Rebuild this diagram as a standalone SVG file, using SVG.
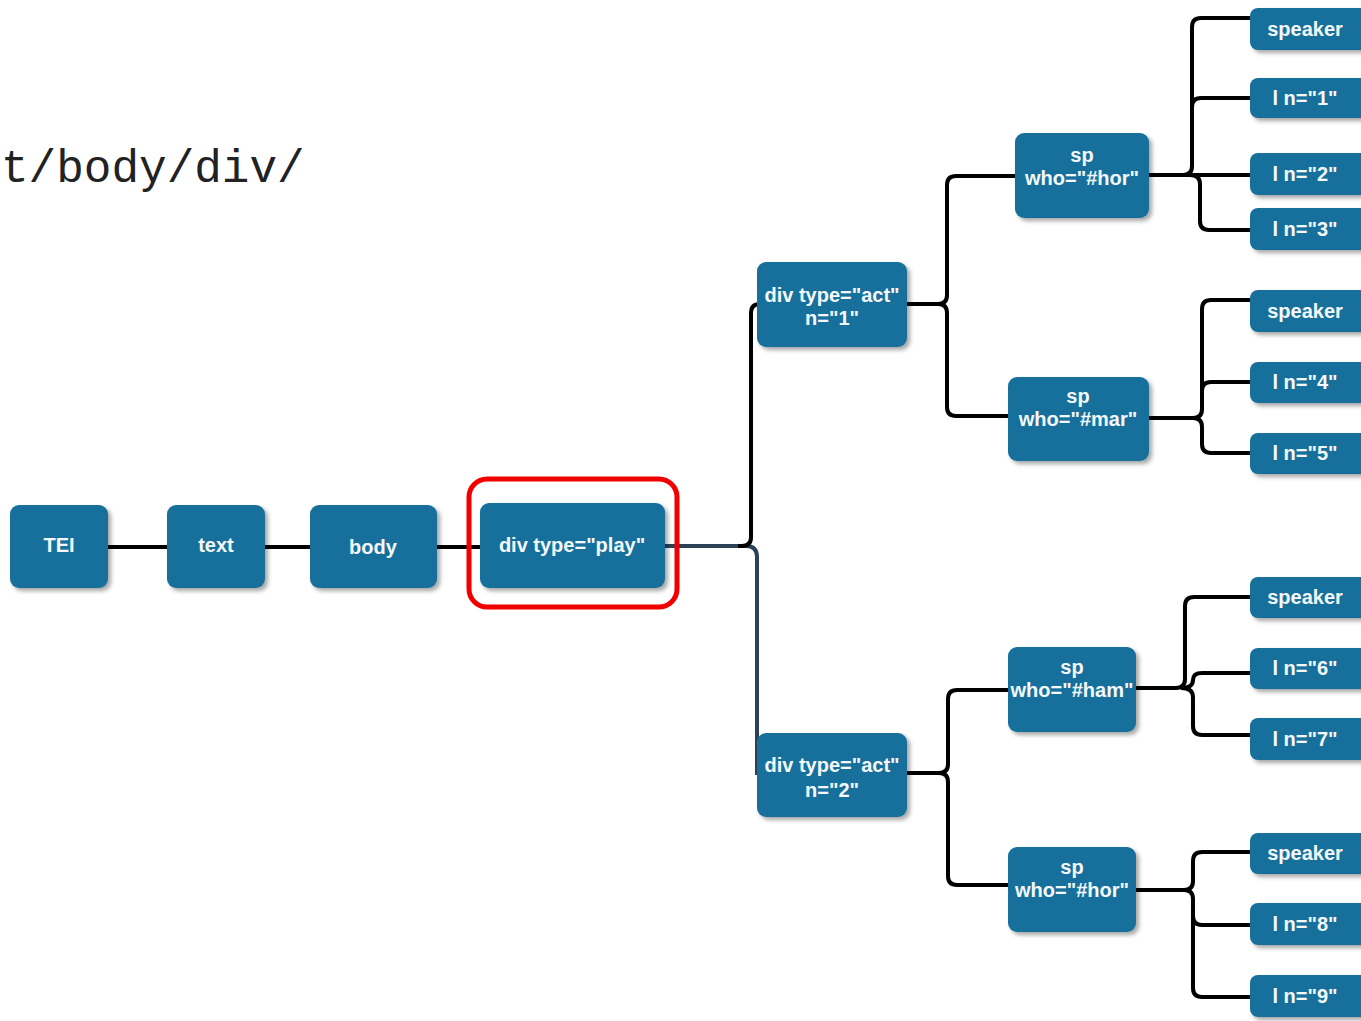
<svg xmlns="http://www.w3.org/2000/svg" width="1361" height="1021" viewBox="0 0 1361 1021">
  <defs>
    <filter id="shadow" x="-10%" y="-10%" width="130%" height="140%">
      <feDropShadow dx="3" dy="3" stdDeviation="2" flood-color="#000" flood-opacity="0.35"/>
    </filter>
  </defs>
  <style>
    .box { fill: #17709b; filter: url(#shadow); }
    .lbl { fill: #f4f8fb; font-family: "Liberation Sans", Arial, Helvetica, sans-serif; font-weight: bold; font-size: 20px; text-anchor: middle; }
    .edge { fill: none; stroke: #000; stroke-width: 4; stroke-linecap: butt; stroke-linejoin: round; }
    .edge-dark { fill: none; stroke: #2b4256; stroke-width: 4; }
    .path-text { font-family: "Liberation Mono", "Courier New", monospace; font-size: 46px; fill: #222; }
    .highlight { fill: none; stroke: #f20000; stroke-width: 5; }
  </style>

  <rect width="1361" height="1021" fill="#fff"/>

  <!-- XPath fragment -->
  <text class="path-text" x="1" y="182">t/body/div/</text>

  <!-- connectors -->
  <g id="connectors">
    <path class="edge" d="M108,547 H167"/>
    <path class="edge" d="M265,547 H310"/>
    <path class="edge" d="M437,547 H480"/>
    <!-- play to act 2 -->
    <path class="edge-dark" d="M665,546 H746 Q757,546 757,557 V773 H760"/>
    <!-- play to act 1 -->
    <path class="edge" d="M738,546 H742 Q751,546 751,537 V313 Q751,304 760,304"/>
    <!-- act 1 to speeches -->
    <path class="edge" d="M907,304 H938 Q947,304 947,295 V185 Q947,176 956,176 H1015"/>
    <path class="edge" d="M907,304 H938 Q947,304 947,313 V407 Q947,416 956,416 H1008"/>
    <!-- sp #hor (act 1) to children -->
    <path class="edge" d="M1149,175 H1183 Q1192,175 1192,166 V27 Q1192,18 1201,18 H1250"/>
    <path class="edge" d="M1192,107 Q1192,98 1201,98 H1250"/>
    <path class="edge" d="M1149,175 H1250"/>
    <path class="edge" d="M1190,175 Q1200,175 1200,184 V221 Q1200,230 1209,230 H1250"/>
    <!-- sp #mar to children -->
    <path class="edge" d="M1149,418 H1193 Q1202,418 1202,409 V309 Q1202,300 1211,300 H1250"/>
    <path class="edge" d="M1202,391 Q1202,382 1211,382 H1250"/>
    <path class="edge" d="M1193,418 Q1202,418 1202,427 V444 Q1202,453 1211,453 H1250"/>
    <!-- act 2 to speeches -->
    <path class="edge" d="M907,773 H939 Q948,773 948,764 V699 Q948,690 957,690 H1008"/>
    <path class="edge" d="M907,773 H939 Q948,773 948,782 V876 Q948,885 957,885 H1008"/>
    <!-- sp #ham to children -->
    <path class="edge" d="M1136,688 H1176 Q1185,688 1185,679 V606 Q1185,597 1194,597 H1250"/>
    <path class="edge" d="M1181,688 Q1193,688 1193,680 Q1193,673 1202,673 H1250"/>
    <path class="edge" d="M1181,688 Q1193,688 1193,697 V726 Q1193,735 1202,735 H1250"/>
    <!-- sp #hor (act 2) to children -->
    <path class="edge" d="M1136,890 H1184 Q1193,890 1193,881 V861 Q1193,852 1202,852 H1250"/>
    <path class="edge" d="M1184,890 Q1193,890 1193,899 V916 Q1193,925 1202,925 H1250"/>
    <path class="edge" d="M1193,916 V988 Q1193,997 1202,997 H1250"/>
  </g>

  <!-- main chain -->
  <g id="tei"><rect class="box" x="10" y="505" width="98" height="83" rx="9"/><text class="lbl" x="59" y="552">TEI</text></g>
  <g id="text"><rect class="box" x="167" y="505" width="98" height="83" rx="9"/><text class="lbl" x="216" y="552">text</text></g>
  <g id="body"><rect class="box" x="310" y="505" width="127" height="83" rx="9"/><text class="lbl" x="373" y="554">body</text></g>
  <g id="div-play">
    <rect class="box" x="480" y="503" width="185" height="85" rx="9"/>
    <text class="lbl" x="572" y="552">div type="play"</text>
    <rect class="highlight" x="469" y="479" width="208" height="128" rx="18"/>
  </g>

  <!-- acts -->
  <g id="div-act1"><rect class="box" x="757" y="262" width="150" height="85" rx="9"/><text class="lbl" x="832" y="302">div type="act"</text><text class="lbl" x="832" y="325">n="1"</text></g>
  <g id="div-act2"><rect class="box" x="757" y="733" width="150" height="84" rx="9"/><text class="lbl" x="832" y="772">div type="act"</text><text class="lbl" x="832" y="797">n="2"</text></g>

  <!-- speeches -->
  <g id="sp-hor-1"><rect class="box" x="1015" y="133" width="134" height="85" rx="9"/><text class="lbl" x="1082" y="162">sp</text><text class="lbl" x="1082" y="185">who="#hor"</text></g>
  <g id="sp-mar"><rect class="box" x="1008" y="377" width="141" height="84" rx="9"/><text class="lbl" x="1078" y="403">sp</text><text class="lbl" x="1078" y="426">who="#mar"</text></g>
  <g id="sp-ham"><rect class="box" x="1008" y="647" width="128" height="85" rx="9"/><text class="lbl" x="1072" y="674">sp</text><text class="lbl" x="1072" y="697">who="#ham"</text></g>
  <g id="sp-hor-2"><rect class="box" x="1008" y="847" width="128" height="85" rx="9"/><text class="lbl" x="1072" y="874">sp</text><text class="lbl" x="1072" y="897">who="#hor"</text></g>

  <!-- leaves -->
  <g id="speaker-1"><rect class="box" x="1250" y="8" width="125" height="42" rx="8"/><text class="lbl" x="1305" y="36">speaker</text></g>
  <g id="l-1"><rect class="box" x="1250" y="78" width="125" height="40" rx="8"/><text class="lbl" x="1305" y="105">l n="1"</text></g>
  <g id="l-2"><rect class="box" x="1250" y="153" width="125" height="42" rx="8"/><text class="lbl" x="1305" y="181">l n="2"</text></g>
  <g id="l-3"><rect class="box" x="1250" y="208" width="125" height="42" rx="8"/><text class="lbl" x="1305" y="236">l n="3"</text></g>

  <g id="speaker-2"><rect class="box" x="1250" y="290" width="125" height="42" rx="8"/><text class="lbl" x="1305" y="318">speaker</text></g>
  <g id="l-4"><rect class="box" x="1250" y="362" width="125" height="41" rx="8"/><text class="lbl" x="1305" y="389">l n="4"</text></g>
  <g id="l-5"><rect class="box" x="1250" y="433" width="125" height="41" rx="8"/><text class="lbl" x="1305" y="460">l n="5"</text></g>

  <g id="speaker-3"><rect class="box" x="1250" y="577" width="125" height="41" rx="8"/><text class="lbl" x="1305" y="604">speaker</text></g>
  <g id="l-6"><rect class="box" x="1250" y="648" width="125" height="41" rx="8"/><text class="lbl" x="1305" y="675">l n="6"</text></g>
  <g id="l-7"><rect class="box" x="1250" y="718" width="125" height="42" rx="8"/><text class="lbl" x="1305" y="746">l n="7"</text></g>

  <g id="speaker-4"><rect class="box" x="1250" y="833" width="125" height="41" rx="8"/><text class="lbl" x="1305" y="860">speaker</text></g>
  <g id="l-8"><rect class="box" x="1250" y="903" width="125" height="42" rx="8"/><text class="lbl" x="1305" y="931">l n="8"</text></g>
  <g id="l-9"><rect class="box" x="1250" y="975" width="125" height="42" rx="8"/><text class="lbl" x="1305" y="1003">l n="9"</text></g>
</svg>
